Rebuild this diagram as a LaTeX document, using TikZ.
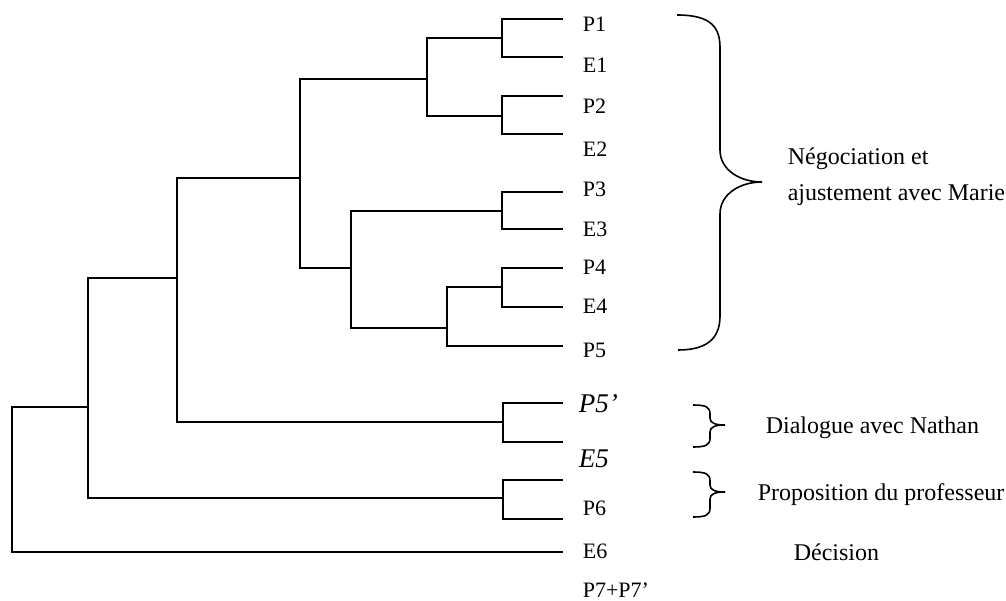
\documentclass[tikz,border=0pt]{standalone}
\usepackage{fontspec}
\setmainfont{Liberation Serif}
\usepackage{tikz}

\begin{document}
\begin{tikzpicture}[x=1pt,y=-1pt,line width=1.6pt,
  leaf/.style={anchor=base west,inner sep=0pt,font=\fontsize{22}{26}\selectfont},
  leafit/.style={anchor=base west,inner sep=0pt,font=\fontsize{27}{31}\selectfont\itshape},
  phase/.style={anchor=base west,inner sep=0pt,font=\fontsize{24}{28}\selectfont},
  brace/.style={line width=1.6pt}]
  \useasboundingbox (0,0) rectangle (1006,601);
  % ends of the leaves
  \foreach \n/\y in {p1/19,e1/57,p2/96,e2/134,p3/192,e3/229,p4/268,e4/307,
                     p5/346,p5b/403,e5/442,p6a/480,p6b/519,e6/552}
    \coordinate (\n) at (563,\y);
  % joints of the tree
  \coordinate (j1) at (502,38);
  \coordinate (j2) at (502,116);
  \coordinate (j12) at (427,79);
  \coordinate (j3) at (502,211);
  \coordinate (j4) at (502,287);
  \coordinate (j45) at (447,328);
  \coordinate (j345) at (351,268);
  \coordinate (jA) at (300,178);
  \coordinate (j5) at (503,422);
  \coordinate (jB) at (177,278);
  \coordinate (j6) at (503,498);
  \coordinate (jC) at (88,407);
  \coordinate (root) at (12,480);
  \foreach \p/\a/\b in {j1/p1/e1,j2/p2/e2,j12/j1/j2,j3/p3/e3,j4/p4/e4,j45/j4/p5,
                        j345/j3/j45,jA/j12/j345,j5/p5b/e5,jB/jA/j5,j6/p6a/p6b,
                        jC/jB/j6,root/jC/e6}
    \draw (\a) -- (\p |- \a) -- (\p |- \b) -- (\b);

  % labels of the leaves
  \node[leaf] (tP1) at (582,32) {P1};
  \node[leaf] (tE1) at (582,73) {E1};
  \node[leaf] (tP2) at (582,114) {P2};
  \node[leaf] (tE2) at (582,157) {E2};
  \node[leaf] (tP3) at (582,197) {P3};
  \node[leaf] (tE3) at (582,237) {E3};
  \node[leaf] (tP4) at (582,275) {P4};
  \node[leaf] (tE4) at (582,314) {E4};
  \node[leaf] (tP5) at (582,357) {P5};
  \node[leafit] (tP5b) at (578,412) {P5’};
  \node[leafit] (tE5) at (578,467) {E5};
  \node[leaf] (tP6) at (582,515) {P6};
  \node[leaf] (tE6) at (582,558) {E6};
  \node[leaf] (tP7) at (582,597) {P7+P7’};

  % braces and phases
  \draw[brace] (677,15) .. controls (712,15) and (720,28) .. (720,48) -- (720,150)
    .. controls (720,170) and (740,182) .. (762,182)
    .. controls (740,182) and (720,194) .. (720,214) -- (720,316)
    .. controls (720,340) and (705,350) .. (678,350);
  \foreach \t/\m/\b in {405/425/447,472/492/517}
    \draw[brace] (693,\t) .. controls (706,\t) and (710,\t+2) .. (710,\t+9) -- (710,\m-7)
      .. controls (710,\m-2) and (715,\m) .. (725,\m)
      .. controls (715,\m) and (710,\m+2) .. (710,\m+7) -- (710,\b-9)
      .. controls (710,\b-2) and (706,\b) .. (693,\b);
  \node[phase] (neg) at (787,165) {Négociation et};
  \node[phase] (aju) at (787,201) {ajustement avec Marie};
  \node[phase] (dia) at (765,433) {Dialogue avec Nathan};
  \node[phase] (pro) at (757,500) {Proposition du professeur};
  \node[phase] (dec) at (793,560) {Décision};
\end{tikzpicture}
\end{document}
